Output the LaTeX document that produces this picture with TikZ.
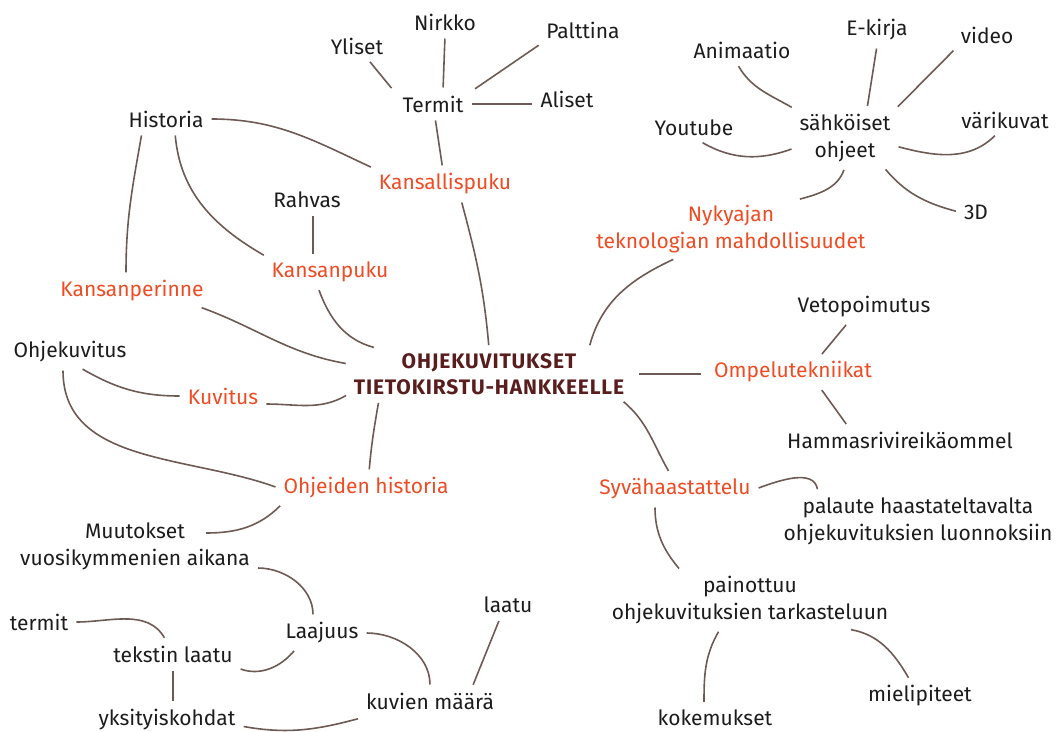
\documentclass[tikz,border=0pt]{standalone}
\usepackage{fontspec}
\setmainfont{Fira Sans}
\newfontfamily\hubfamily[LetterSpace=4.0]{Fira Sans}
\usepackage{tikz}
\usetikzlibrary{positioning}

\definecolor{kororange}{HTML}{F04B23}
\definecolor{hubred}{HTML}{5A1D1D}
\definecolor{linkgray}{HTML}{6E5A55}
\definecolor{txtblack}{HTML}{1C1C1C}

\begin{document}
\begin{tikzpicture}[
        x=1pt, y=-1pt,
        topic/.style={font=\fontsize{21}{27}\selectfont, text=txtblack, align=center, inner sep=5pt},
        branch/.style={topic, text=kororange},
        hub/.style={font=\hubfamily\bfseries\fontsize{21}{26}\selectfont, text=hubred, align=center, inner sep=5pt},
        link/.style={draw=linkgray, line width=1.6pt, shorten <=3pt, shorten >=3pt}
    ]
        \useasboundingbox (0,0) rectangle (1063,731);

        % keskus ja päähaarat
        \node[hub] (hub) at (489,374) {OHJEKUVITUKSET\\TIETOKIRSTU-HANKKEELLE};
        \node[branch] (kansallis) at (445,184) {Kansallispuku};
        \node[branch] (kansanpuku) at (330,272) {Kansanpuku};
        \node[branch] (perinne) at (132,291) {Kansanperinne};
        \node[branch] (kuvitus) at (223,396) {Kuvitus};
        \node[branch] (ohjhist) at (366,488) {Ohjeiden historia};
        \node[branch] (nykyaika) at (731,229) {Nykyajan\\teknologian mahdollisuudet};
        \node[branch] (ompelu) at (793,372) {Ompelutekniikat};
        \node[branch] (syva) at (675,489) {Syvähaastattelu};

        % alahaarat
        \node[topic] (yliset) at (357,46) {Yliset};
        \node[topic] (nirkko) at (445,22) {Nirkko};
        \node[topic] (palttina) at (583,30) {Palttina};
        \node[topic] (termit) at (433,104) {Termit};
        \node[topic] (aliset) at (567,99) {Aliset};
        \node[topic] (historia) at (166,119) {Historia};
        \node[topic] (rahvas) at (307,200) {Rahvas};
        \node[topic] (animaatio) at (742,50) {Animaatio};
        \node[topic] (ekirja) at (877,30) {E-kirja};
        \node[topic] (video) at (987,35) {video};
        \node[topic] (youtube) at (694,128) {Youtube};
        \node[topic] (sahko) at (845,138) {sähköiset\\ohjeet};
        \node[topic] (varikuvat) at (1005,120) {värikuvat};
        \node[topic] (kolmed) at (976,212) {3D};
        \node[topic] (ohjekuvitus) at (70,352) {Ohjekuvitus};
        \node[topic] (vetopoimutus) at (864,307) {Vetopoimutus};
        \node[topic] (hammas) at (900,440) {Hammasrivireikäommel};
        \node[topic] (palaute) at (918,521) {palaute haastateltavalta\\ohjekuvituksien luonnoksiin};
        \node[topic] (muutokset) at (135,546) {Muutokset\\vuosikymmenien aikana};
        \node[topic] (termitpieni) at (39,622) {termit};
        \node[topic] (tekstin) at (173,654) {tekstin laatu};
        \node[topic] (yksit) at (167,720) {yksityiskohdat};
        \node[topic] (laajuus) at (322,633) {Laajuus};
        \node[topic] (laatu) at (508,605) {laatu};
        \node[topic] (kuvien) at (430,701) {kuvien määrä};
        \node[topic] (painottuu) at (750,600) {painottuu\\ohjekuvituksien tarkasteluun};
        \node[topic] (kokemukset) at (715,718) {kokemukset};
        \node[topic] (mielipiteet) at (920,696) {mielipiteet};

        % yhteydet
        \draw[link] (yliset) -- ([xshift=-4pt]termit.north west);
        \draw[link] (nirkko.south) -- ([xshift=10pt]termit.north);
        \draw[link] (palttina.south west) -- ([xshift=4pt]termit.north east);
        \draw[link] (termit.east) -- (termit.east -| aliset.west);
        \draw[link] (termit) -- (kansallis);
        \draw[link] (historia.east) to[out=0, in=155] (kansallis.north west);
        \draw[link] ([xshift=9pt]historia.south) to[out=-85, in=150] (kansanpuku.north west);
        \draw[link] ([xshift=-24pt]historia.south) to[out=-100, in=90] ([xshift=-6pt]perinne.north);
        \draw[link] ([xshift=6pt]rahvas.south) -- ([xshift=-17pt]kansanpuku.north);
        \draw[link] ([xshift=16pt]kansallis.south) to[out=-75, in=95] (hub.north);
        \draw[link] ([xshift=-12pt]kansanpuku.south) to[out=-70, in=165] ([xshift=28pt]hub.north west);
        \draw[link] ([xshift=-10pt]perinne.south east) to[out=-20, in=170] ([yshift=10pt]hub.west);
        \draw[link] ([xshift=10pt]ohjekuvitus.south) to[out=-30, in=180] (kuvitus.west);
        \draw[link] ([xshift=-7pt]ohjekuvitus.south) to[out=-90, in=160] (ohjhist.west);
        \draw[link] ([yshift=-8pt]kuvitus.east) to[out=0, in=210] ([yshift=-20pt]hub.west);
        \draw[link] ([xshift=-110pt]hub.south) to[out=-100, in=85] ([xshift=3pt]ohjhist.north);
        \draw[link] ([xshift=100pt]hub.north) to[out=75, in=-155] ([xshift=-55pt]nykyaika.south);
        \draw[link, shorten <=10pt, shorten >=8pt] (hub.east) -- (hub.east -| ompelu.west);
        \draw[link] ([xshift=-8pt]hub.south east) to[out=-40, in=120] ([xshift=-5pt]syva.north);
        \draw[link] ([xshift=66pt]nykyaika.north) to[out=15, in=-110] (sahko.south);
        \draw[link] ([xshift=-5pt]animaatio.south) to[out=-60, in=150] (sahko.north west);
        \draw[link] (ekirja.south) -- ([xshift=22pt]sahko.north);
        \draw[link] (video.south west) -- (sahko.north east);
        \draw[link] ([xshift=6pt]youtube.south) to[out=-30, in=200] ([yshift=-10pt]sahko.west);
        \draw[link] ([yshift=-8pt]sahko.east) to[out=-15, in=-135] ([xshift=-8pt]varikuvat.south);
        \draw[link] ([xshift=-12pt]sahko.south east) to[out=-50, in=165] (kolmed.west);
        \draw[link] ([xshift=27pt]ompelu.north) -- ([xshift=-16pt]vetopoimutus.south);
        \draw[link] ([xshift=27pt]ompelu.south) -- ([xshift=-52pt]hammas.north);
        \draw[link] (syva.east) to[out=20, in=100] ([xshift=-100pt]palaute.north);
        \draw[link] ([xshift=-20pt]syva.south) to[out=-90, in=130] ([xshift=-69pt]painottuu.north);
        \draw[link] ([xshift=-30pt]painottuu.south) to[out=-120, in=90] ([xshift=-11pt]kokemukset.north);
        \draw[link] ([xshift=98pt]painottuu.south) to[out=-10, in=120] ([xshift=-10pt]mielipiteet.north);
        \draw[link] ([xshift=4pt]ohjhist.south west) to[out=-135, in=0] ([xshift=68pt, yshift=13pt]muutokset.center);
        \draw[link] ([yshift=-22pt]muutokset.east) to[out=0, in=90] ([xshift=-9pt]laajuus.north);
        \draw[link] ([yshift=-14pt]tekstin.east) to[out=-20, in=230] ([xshift=-26pt]laajuus.south);
        \draw[link] (laajuus.east) to[out=0, in=90] (kuvien.north);
        \draw[link] ([xshift=-8pt]laatu.south) -- ([xshift=42pt]kuvien.north);
        \draw[link] (termitpieni.east) to[out=0, in=120] ([xshift=-7pt]tekstin.north);
        \draw[link] (tekstin.south) -- (tekstin.south |- yksit.north);
        \draw[link] ([yshift=-6pt]yksit.east) to[out=-10, in=195] ([yshift=-17pt]kuvien.west);
    \end{tikzpicture}
\end{document}
